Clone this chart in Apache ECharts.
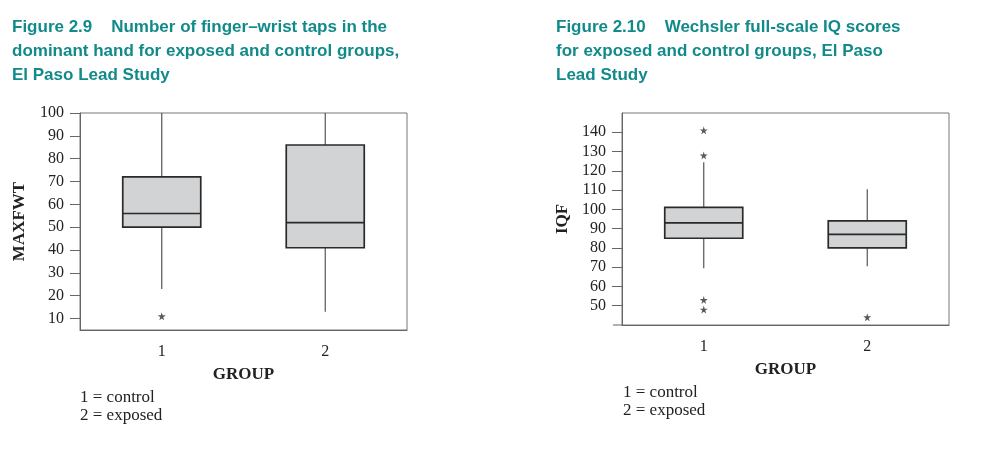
<!DOCTYPE html>
<html><head><meta charset="utf-8">
<script src="https://cdn.jsdelivr.net/npm/echarts@6/dist/echarts.min.js"></script>
<style>html,body{margin:0;padding:0;background:#fff}#c{width:985px;height:452px}</style>
</head><body><div id="c"></div>
<script>
// ---- data ----
const groups = ['1', '2'];
// [lower whisker, Q1, median, Q3, upper whisker]
const tapsControl = [23, 50, 56, 72, 100];
const tapsExposed = [13, 41, 52, 86, 100];
const tapsOutliers = [[0, 11]];
const tapsTicks = [10, 20, 30, 40, 50, 60, 70, 80, 90, 100];

const iqControl = [69.5, 85, 93, 101, 124.5];
const iqExposed = [70.5, 80, 87, 94, 110.5];
const iqOutliers = [[0, 141], [0, 128], [0, 53], [0, 48], [1, 44]];
const iqTicks = [50, 60, 70, 80, 90, 100, 110, 120, 130, 140];

const titleLeft = ['Figure 2.9\u00a0\u00a0\u00a0\u00a0Number of finger\u2013wrist taps in the', 'dominant hand for exposed and control groups,', 'El Paso Lead Study'];
const titleRight = ['Figure 2.10\u00a0\u00a0\u00a0\u00a0Wechsler full-scale IQ scores', 'for exposed and control groups, El Paso', 'Lead Study'];
const legendLines = ['1 = control', '2 = exposed'];

// ---- styling ----
const SERIF = '"Liberation Serif", "DejaVu Serif", serif';
const SANS = '"Liberation Sans", Arial, sans-serif';
const TEAL = '#128a8a';
const star = 'path://M50,0 L61,35 L98,35 L68,57 L79,91 L50,70 L21,91 L32,57 L2,35 L39,35 Z';

function boxOnly(d) { return [d[1], d[1], d[2], d[3], d[3]]; }

function xAx(gi, show) {
  return {
    type: 'category', gridIndex: gi, data: groups, show: show,
    axisLine: { lineStyle: { color: '#666', width: 1 } },
    axisTick: { alignWithLabel: true, length: 8, lineStyle: { color: '#666' } },
    axisLabel: { fontFamily: SERIF, fontSize: 16, color: '#222', margin: 14 },
    name: show ? 'GROUP' : '', nameLocation: 'middle', nameGap: 36,
    nameTextStyle: { fontFamily: SERIF, fontSize: 17, fontWeight: 'bold', color: '#222' }
  };
}
function yAx(gi, min, max, ticks, name, gap) {
  return {
    type: 'value', gridIndex: gi, min: min, max: max,
    axisLine: { show: true, lineStyle: { color: '#666' } },
    axisTick: { show: true, inside: false, length: 10, customValues: ticks, lineStyle: { color: '#666' } },
    axisLabel: { customValues: ticks, fontFamily: SERIF, fontSize: 16, color: '#222', margin: 16 },
    splitLine: { show: false },
    name: name, nameLocation: 'middle', nameGap: gap, nameRotate: 90,
    nameTextStyle: { fontFamily: SERIF, fontSize: 17, fontWeight: 'bold', color: '#222' }
  };
}
function whiskers(xi, yi, data) {
  return {
    type: 'boxplot', xAxisIndex: xi, yAxisIndex: yi, data: data, boxWidth: [0, 0], z: 2,
    itemStyle: { color: 'transparent', borderColor: '#555', borderWidth: 1.2 }, silent: true
  };
}
function boxes(xi, yi, data) {
  return {
    type: 'boxplot', xAxisIndex: xi, yAxisIndex: yi, data: data.map(boxOnly), boxWidth: [78, 78], z: 3,
    itemStyle: { color: '#d2d3d5', borderColor: '#2a2a2a', borderWidth: 1.7 }, silent: true
  };
}
function outliers(xi, yi, data) {
  return {
    type: 'scatter', xAxisIndex: xi, yAxisIndex: yi, data: data, symbol: star, symbolSize: 8, z: 4,
    itemStyle: { color: '#2a2f3a' }, silent: true
  };
}

const chart = echarts.init(document.getElementById('c'));
chart.setOption({
  animation: false,
  title: [
    { text: titleLeft.join('\n'), left: 12, top: 15, padding: 0, textStyle: { fontFamily: SANS, fontSize: 17, fontWeight: 'bold', color: TEAL, lineHeight: 24 } },
    { text: titleRight.join('\n'), left: 556, top: 15, padding: 0, textStyle: { fontFamily: SANS, fontSize: 17, fontWeight: 'bold', color: TEAL, lineHeight: 24 } }
  ],
  grid: [
    { left: 80, top: 113, width: 327, height: 217, show: true, borderColor: '#777', borderWidth: 1, backgroundColor: 'transparent' },
    { left: 622, top: 113, width: 327, height: 212, show: true, borderColor: '#777', borderWidth: 1, backgroundColor: 'transparent' }
  ],
  xAxis: [xAx(0, true), xAx(0, false), xAx(1, true), xAx(1, false)],
  yAxis: [yAx(0, 5, 100, tapsTicks, 'MAXFWT', 52), yAx(1, 40, 150, iqTicks, 'IQF', 51)],
  series: [
    whiskers(1, 0, [tapsControl, tapsExposed]),
    boxes(0, 0, [tapsControl, tapsExposed]),
    outliers(0, 0, tapsOutliers),
    whiskers(3, 1, [iqControl, iqExposed]),
    boxes(2, 1, [iqControl, iqExposed]),
    outliers(2, 1, iqOutliers)
  ],
  graphic: [
    { type: 'text', left: 80, top: 389, style: { text: legendLines.join('\n'), font: '17px ' + SERIF, fill: '#222', lineHeight: 18 } },
    { type: 'text', left: 623, top: 384, style: { text: legendLines.join('\n'), font: '17px ' + SERIF, fill: '#222', lineHeight: 18 } },
    { type: 'line', shape: { x1: 613, y1: 325, x2: 622, y2: 325 }, style: { stroke: '#666', lineWidth: 1 } }
  ]
});
</script></body></html>
